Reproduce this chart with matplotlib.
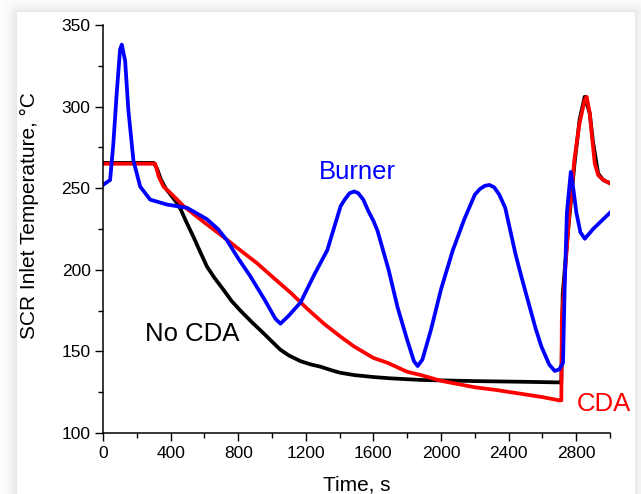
"""SCR inlet temperature vs time for No CDA, CDA and Burner cases."""

import matplotlib
matplotlib.use("Agg")
import matplotlib.pyplot as plt
import numpy as np
from matplotlib.ticker import MultipleLocator

plt.rcParams["font.family"] = ["Liberation Sans", "DejaVu Sans"]

# --- data ---
time_nocda = [0, 300, 320, 340, 370, 400, 430, 460, 490, 536, 575, 615, 660,
              714, 760, 813, 880, 951, 1000, 1050, 1100, 1169, 1230, 1288,
              1350, 1400, 1486, 1600, 1700, 1881, 2200, 2475, 2700, 2712,
              2720, 2750, 2790, 2820, 2850, 2880, 2900, 2930, 2960, 3000]
temp_nocda = [265.5, 265.5, 262, 256, 250, 246, 242, 237, 230, 220, 211, 202,
              195, 187.6, 181, 175, 168, 161, 156, 151, 147.5, 144, 142,
              140.6, 138.5, 137, 135.5, 134.3, 133.5, 132.5, 131.8, 131.4,
              131, 131, 185, 222, 265, 292, 306, 296, 278, 259, 255, 253]

time_cda = [0, 309, 330, 358, 400, 477, 600, 714, 812, 912, 1010, 1110, 1210,
            1307, 1406, 1486, 1600, 1684, 1800, 1881, 2000, 2079, 2200, 2317,
            2475, 2600, 2700, 2712, 2715, 2735, 2760, 2790, 2820, 2850, 2862,
            2880, 2895, 2910, 2930, 2960, 3000]
temp_cda = [265, 265, 257, 251, 247, 239, 229, 220, 212, 204, 195, 186, 176,
            167, 159, 153, 146, 143, 137.5, 135.5, 132, 130.4, 128, 126.5,
            124, 122, 120, 120, 170, 200, 235, 268, 290, 304, 306, 296, 280,
            265, 258, 255, 253]

time_burner = [0, 42, 61, 81, 101, 111, 131, 150, 180, 220, 279, 378, 497,
               615, 680, 734, 800, 872, 960, 1020, 1050, 1100, 1169, 1250,
               1327, 1406, 1430, 1460, 1486, 1510, 1540, 1570, 1600, 1624,
               1690, 1743, 1800, 1840, 1862, 1890, 1940, 2000, 2070, 2138,
               2200, 2230, 2260, 2287, 2315, 2345, 2380, 2410, 2440, 2475,
               2520, 2560, 2594, 2640, 2673, 2700, 2722, 2732, 2745, 2768,
               2785, 2801, 2825, 2851, 2900, 3000]
temp_burner = [252, 255, 277, 308, 335, 338, 328, 298, 267, 251, 243, 240,
               238, 231, 225, 218, 207, 196, 181, 170, 167, 172, 180, 197,
               212, 239, 243, 247, 248, 247, 243, 236, 230, 224, 200, 177,
               157, 144, 141, 145, 163, 188, 212, 231, 246, 249.5, 251.5, 252,
               250.5, 246, 238, 224, 210, 196, 179, 164, 153, 142, 138, 139,
               143, 190, 235, 260, 248, 235, 223, 219, 225, 235]

x_ticks = [0, 400, 800, 1200, 1600, 2000, 2400, 2800]
y_ticks = [100, 150, 200, 250, 300, 350]

W, H = 641, 494
fig = plt.figure(figsize=(W / 100, H / 100), dpi=100)

# card with soft shadow behind the chart
bg = fig.add_axes([0, 0, 1, 1], zorder=-10)
xx, yy = np.meshgrid(np.arange(W) + 0.5, np.arange(H) + 0.5)
card = (17, 635, 13)  # left, right, top
dx = np.maximum(card[0] - xx, 0) + np.maximum(xx - card[1], 0)
dy = np.maximum(card[2] - yy, 0)
d = np.hypot(dx, dy)
inside = (xx >= card[0]) & (xx <= card[1]) & (yy >= card[2])
shade = 1 - 0.10 * np.exp(-d / 7.0)
shade[inside] = 1.0
bg.imshow(shade, cmap="gray", vmin=0, vmax=1, extent=(0, W, H, 0), aspect="auto")
bg.axis("off")

l, r, t, b = 103, 610, 25, 433
ax = fig.add_axes([l / W, 1 - b / H, (r - l) / W, (b - t) / H])
ax.patch.set_alpha(0)

lw = 2.7
ax.plot(time_nocda, temp_nocda, color="black", lw=lw, solid_joinstyle="round")
ax.plot(time_cda, temp_cda, color="#ff0000", lw=lw, solid_joinstyle="round")
ax.plot(time_burner, temp_burner, color="#0000ff", lw=lw, solid_joinstyle="round")

ax.text(1507, 260, "Burner", color="#0000ff", fontsize=18.5, ha="center", va="center")
ax.text(525, 160.5, "No CDA", color="black", fontsize=18.5, ha="center", va="center")
ax.text(2964, 118, "CDA", color="#ff0000", fontsize=18.5, ha="center", va="center",
        clip_on=False)

ax.set_xlim(0, 3000)
ax.set_ylim(100, 350)
ax.set_xticks(x_ticks)
ax.set_yticks(y_ticks)
ax.xaxis.set_minor_locator(MultipleLocator(200))
ax.yaxis.set_minor_locator(MultipleLocator(25))
ax.tick_params(which="major", direction="out", length=6, width=1, labelsize=12.5,
               pad=3)
ax.tick_params(which="minor", direction="out", length=3.5, width=1)
ax.spines["top"].set_visible(False)
ax.spines["right"].set_visible(False)
for s in ("left", "bottom"):
    ax.spines[s].set_linewidth(1.1)

ax.set_ylabel("SCR Inlet Temperature, °C", fontsize=15, va="center")
ax.yaxis.set_label_coords(-0.146, 0.532)
ax.set_xlabel("Time, s", fontsize=15, va="center")
ax.xaxis.set_label_coords(0.5, -0.128)

fig.savefig("out.png", dpi=100)
